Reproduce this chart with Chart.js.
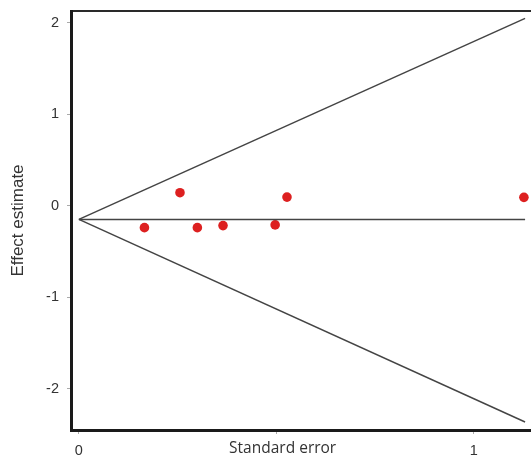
<!DOCTYPE html>
<html>
<head>
<meta charset="utf-8">
<script src="https://cdn.jsdelivr.net/npm/chart.js@4/dist/chart.umd.min.js"></script>
<style>
html,body{margin:0;padding:0;background:#fff;overflow:hidden;}
#wrap{width:531px;height:459px;overflow:hidden;}
canvas{display:block;}
</style>
</head>
<body>
<div id="wrap"><canvas id="c" width="537" height="459"></canvas></div>
<script>
// Study data
const studySE = [0.166, 0.256, 0.300, 0.365, 0.497, 0.527, 1.127];
const studyEffect = [-0.238, 0.144, -0.238, -0.216, -0.208, 0.096, 0.093];
// Pooled estimate and funnel limits
const funnelSE = [0, 1.13];
const upperLimit = [-0.148, 2.05];
const lowerLimit = [-0.148, -2.362];
const pooledLine = [-0.148, -0.148];
const xTicks = [0, 0.5, 1];
const yTicks = [-2, -1, 0, 1, 2];
const xTitle = 'Standard error';
const yTitle = 'Effect estimate';

const toPts = (xs, ys) => xs.map((x, i) => ({x: x, y: ys[i]}));

const xTitlePlugin = {
  id: 'xTitlePlugin',
  afterDraw(chart) {
    const xs = chart.scales.x;
    const ctx = chart.ctx;
    ctx.save();
    ctx.fillStyle = '#333';
    ctx.font = '15.5px "Open Sans", sans-serif';
    ctx.textAlign = 'center';
    ctx.textBaseline = 'middle';
    ctx.fillText(xTitle, xs.getPixelForValue(0.516), 449);
    ctx.restore();
  }
};

new Chart(document.getElementById('c'), {
  type: 'scatter',
  data: {
    datasets: [
      {type: 'line', data: toPts(funnelSE, upperLimit), borderColor: '#444', borderWidth: 1.5, pointRadius: 0, fill: false},
      {type: 'line', data: toPts(funnelSE, lowerLimit), borderColor: '#444', borderWidth: 1.5, pointRadius: 0, fill: false},
      {type: 'line', data: toPts(funnelSE, pooledLine), borderColor: '#444', borderWidth: 1.5, pointRadius: 0, fill: false},
      {data: toPts(studySE, studyEffect), backgroundColor: '#dd2020', borderWidth: 0, pointRadius: 4.8}
    ]
  },
  options: {
    responsive: false,
    animation: false,
    layout: {padding: {top: 11, right: 0, left: 0, bottom: 0}},
    plugins: {legend: {display: false}, tooltip: {enabled: false}},
    scales: {
      x: {
        type: 'linear', position: 'bottom', min: -0.02, max: 1.148,
        afterBuildTicks: s => { s.ticks = xTicks.map(v => ({value: v})); },
        afterFit: s => { s.height = 29; s.paddingLeft = 0; s.paddingRight = 0; },
        border: {display: true, color: '#1a1a1a', width: 3},
        grid: {display: true, drawOnChartArea: false, drawTicks: true, tickLength: 4, color: '#aaa'},
        ticks: {
          color: '#333', font: {family: 'Liberation Sans', size: 14.5}, padding: 8,
          callback: v => (Number.isInteger(v) ? String(v) : '')
        }
      },
      x2: {
        type: 'linear', position: 'top', min: -0.02, max: 1.148,
        afterFit: s => { s.height = 0; s.paddingLeft = 0; s.paddingRight = 0; },
        border: {display: true, color: '#2a2a2a', width: 2},
        grid: {display: false, drawTicks: false},
        ticks: {display: false}
      },
      y: {
        type: 'linear', min: -2.45, max: 2.13,
        afterBuildTicks: s => { s.ticks = yTicks.map(v => ({value: v})); },
        afterFit: s => { s.width = 71; s.paddingTop = 0; s.paddingBottom = 0; },
        border: {display: true, color: '#1a1a1a', width: 3},
        grid: {display: true, drawOnChartArea: false, drawTicks: true, tickLength: 4, color: '#aaa'},
        title: {display: true, text: yTitle, color: '#333', font: {family: 'Liberation Sans', size: 17}, padding: {top: 8, bottom: 14}},
        ticks: {color: '#333', font: {family: 'Liberation Sans', size: 14.5}, padding: 8}
      }
    }
  },
  plugins: [xTitlePlugin]
});
</script>
</body>
</html>
